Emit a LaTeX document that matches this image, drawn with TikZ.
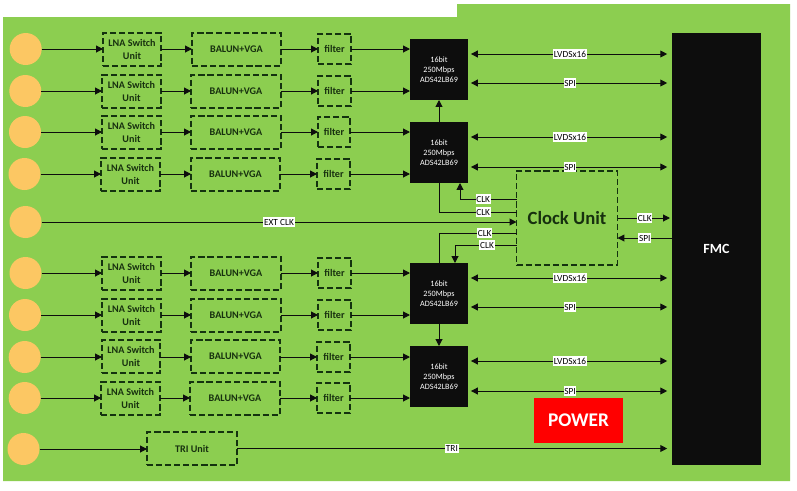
\documentclass[tikz,border=0pt]{standalone}
\usepackage{fontspec}
\setmainfont{Carlito}
\usetikzlibrary{arrows.meta}
\definecolor{board}{HTML}{8CCE50}
\definecolor{port}{HTML}{FCC763}
\definecolor{ink}{HTML}{0D0D0D}
\definecolor{boxline}{HTML}{14330F}
\definecolor{boxtext}{HTML}{17300F}
\tikzset{
  gbox/.style={inner sep=0pt,outer sep=0pt,align=center},
  dbox/.style={gbox,draw=boxline,line width=0.8pt,dash pattern=on 4.6pt off 2.2pt,text=boxtext,font=\fontsize{7.6}{9.3}\selectfont\bfseries},
  bigbox/.style={dbox,font=\fontsize{14}{16}\selectfont\bfseries},
  adc/.style={gbox,fill=ink,text=white,font=\fontsize{6.1}{7.6}\selectfont},
  fmcbox/.style={gbox,fill=ink,text=white,font=\fontsize{10.5}{12}\selectfont\bfseries},
  pwr/.style={gbox,fill=red,text=white,font=\fontsize{14.5}{16}\selectfont\bfseries},
  portc/.style={circle,fill=port,inner sep=0pt,outer sep=0pt,minimum size=24pt},
  conn/.style={draw=ink,line width=0.75pt},
  fw/.style={conn,-{Triangle[length=5.2pt,width=5.2pt]}},
  bi/.style={conn,{Triangle[length=5.2pt,width=5.2pt]}-{Triangle[length=5.2pt,width=5.2pt]},shorten <=2.2pt,shorten >=3.6pt},
  lbl/.style={fill=white,text=black,inner xsep=0.5pt,inner ysep=1.4pt,font=\fontsize{7}{8}\selectfont}
}
% name, left, top, right, bottom, style, text
\newcommand{\bx}[7]{\node[#6,minimum width={(#4-#2)*0.75pt},minimum height={(#5-#3)*0.75pt}] (#1) at ({(#2+#4)/2},{(#3+#5)/2}) {#7};}
\begin{document}
\begin{tikzpicture}[x=0.75pt,y=-0.75pt]
\useasboundingbox (0,0) rectangle (797,490);
\fill[white] (0,0) rectangle (797,490);
\fill[board] (3,17) -- (457,17) -- (457,4) -- (790,4) -- (790,481) -- (3,481) -- cycle;

% ports
\foreach \n/\x/\y in {1/25.7/49,2/25.3/91,3/25/132,4/24.5/174,5/25.5/222,6/25.5/273,7/25/315,8/24.7/357,9/24.7/398,10/23.5/449}
  \node[portc] (p\n) at (\x,\y) {};

% LNA switch units
\foreach \n/\l/\t/\r in {1/103/33/161,2/102/75/161,3/102/116/161,4/101/158/160,6/102/257/161,7/102/299/161,8/102/340/160,9/101/382/160}
  {\bx{l\n}{\l}{\t}{\r}{\t+33}{dbox}{LNA Switch\\Unit}}
% balun units
\foreach \n/\l/\t/\r in {1/192/33/281,2/191/75/281,3/191/116/281,4/191/158/280,6/191/257/281,7/191/299/281,8/191/340/280,9/190/382/280}
  {\bx{b\n}{\l}{\t}{\r}{\t+33}{dbox}{BALUN+VGA}}
% filters
\foreach \n/\l/\t/\r in {1/318/34/351,2/318/76/351,3/318/117/350,4/317/159/350,6/318/258/351,7/318/300/351,8/317/342/350,9/317/383/350}
  {\bx{f\n}{\l}{\t}{\r}{\t+30}{dbox}{filter}}
% converters
\foreach \n/\t in {1/39,2/122,3/263,4/346}
  {\bx{a\n}{410}{\t}{468}{\t+61}{adc}{16bit\\250Mbps\\ADS42LB69}}

\bx{fmc}{672}{33}{761}{465}{fmcbox}{FMC}
\bx{clk}{516.5}{171}{617.5}{265}{bigbox}{Clock Unit}
\bx{pow}{534}{398}{623}{443}{pwr}{POWER}
\bx{tri}{147}{432}{237}{465}{dbox}{TRI Unit}

% signal chains
\foreach \n/\a in {1/a1,2/a1,3/a2,4/a2,6/a3,7/a3,8/a4,9/a4}{
  \draw[fw] (p\n.east) -- (p\n.east -| l\n.west);
  \draw[fw] (l\n.east |- p\n.east) -- (b\n.west |- p\n.east);
  \draw[fw] (b\n.east |- p\n.east) -- (f\n.west |- p\n.east);
  \draw[fw] (f\n.east |- p\n.east) -- (\a.west |- p\n.east);
}

% converter to FMC
\foreach \a/\ya/\yb in {a1/54/83,a2/137/167,a3/278/307,a4/361/391}{
  \draw[bi] (\a.east |- 0,\ya) -- node[lbl]{LVDSx16} (fmc.west |- 0,\ya);
  \draw[bi] (\a.east |- 0,\yb) -- node[lbl]{SPI} (fmc.west |- 0,\yb);
}

% converter chain
\draw[fw] (a2.north) -- (a1.south);
\draw[fw] (a3.south) -- (a4.north);

% external clock, trigger
\draw[fw] (p5.east) -- node[lbl]{EXT CLK} (p5.east -| clk.west);
\draw[fw] (p10.east) -- (p10.east -| tri.west);
\draw[fw,shorten >=3.6pt] (tri.east) -- node[lbl,pos=0.494]{TRI} (fmc.west |- tri.east);

% clock distribution
\coordinate (k1) at (460,183);
\coordinate (k2) at (455,263);
\draw[fw] (clk.west |- 0,199) -- node[lbl,pos=0.59,anchor=center]{CLK} (460,199) -- (k1);
\draw[conn] (clk.west |- 0,212) -- node[lbl,pos=0.43]{CLK} (a2.south |- 0,212) -- (a2.south);
\draw[conn] (clk.west |- 0,233) -- node[lbl,pos=0.41]{CLK} (a3.north |- 0,233) -- (a3.north);
\draw[fw] (clk.west |- 0,245) -- node[lbl,pos=0.48]{CLK} (k2 |- 0,245) -- (k2);

% clock unit to FMC
\draw[fw,shorten >=1.5pt] (clk.east |- 0,218) -- node[lbl,pos=0.5]{CLK} (fmc.west |- 0,218);
\draw[fw] (fmc.west |- 0,238) -- node[lbl,pos=0.5]{SPI} (clk.east |- 0,238);
\end{tikzpicture}
\end{document}
